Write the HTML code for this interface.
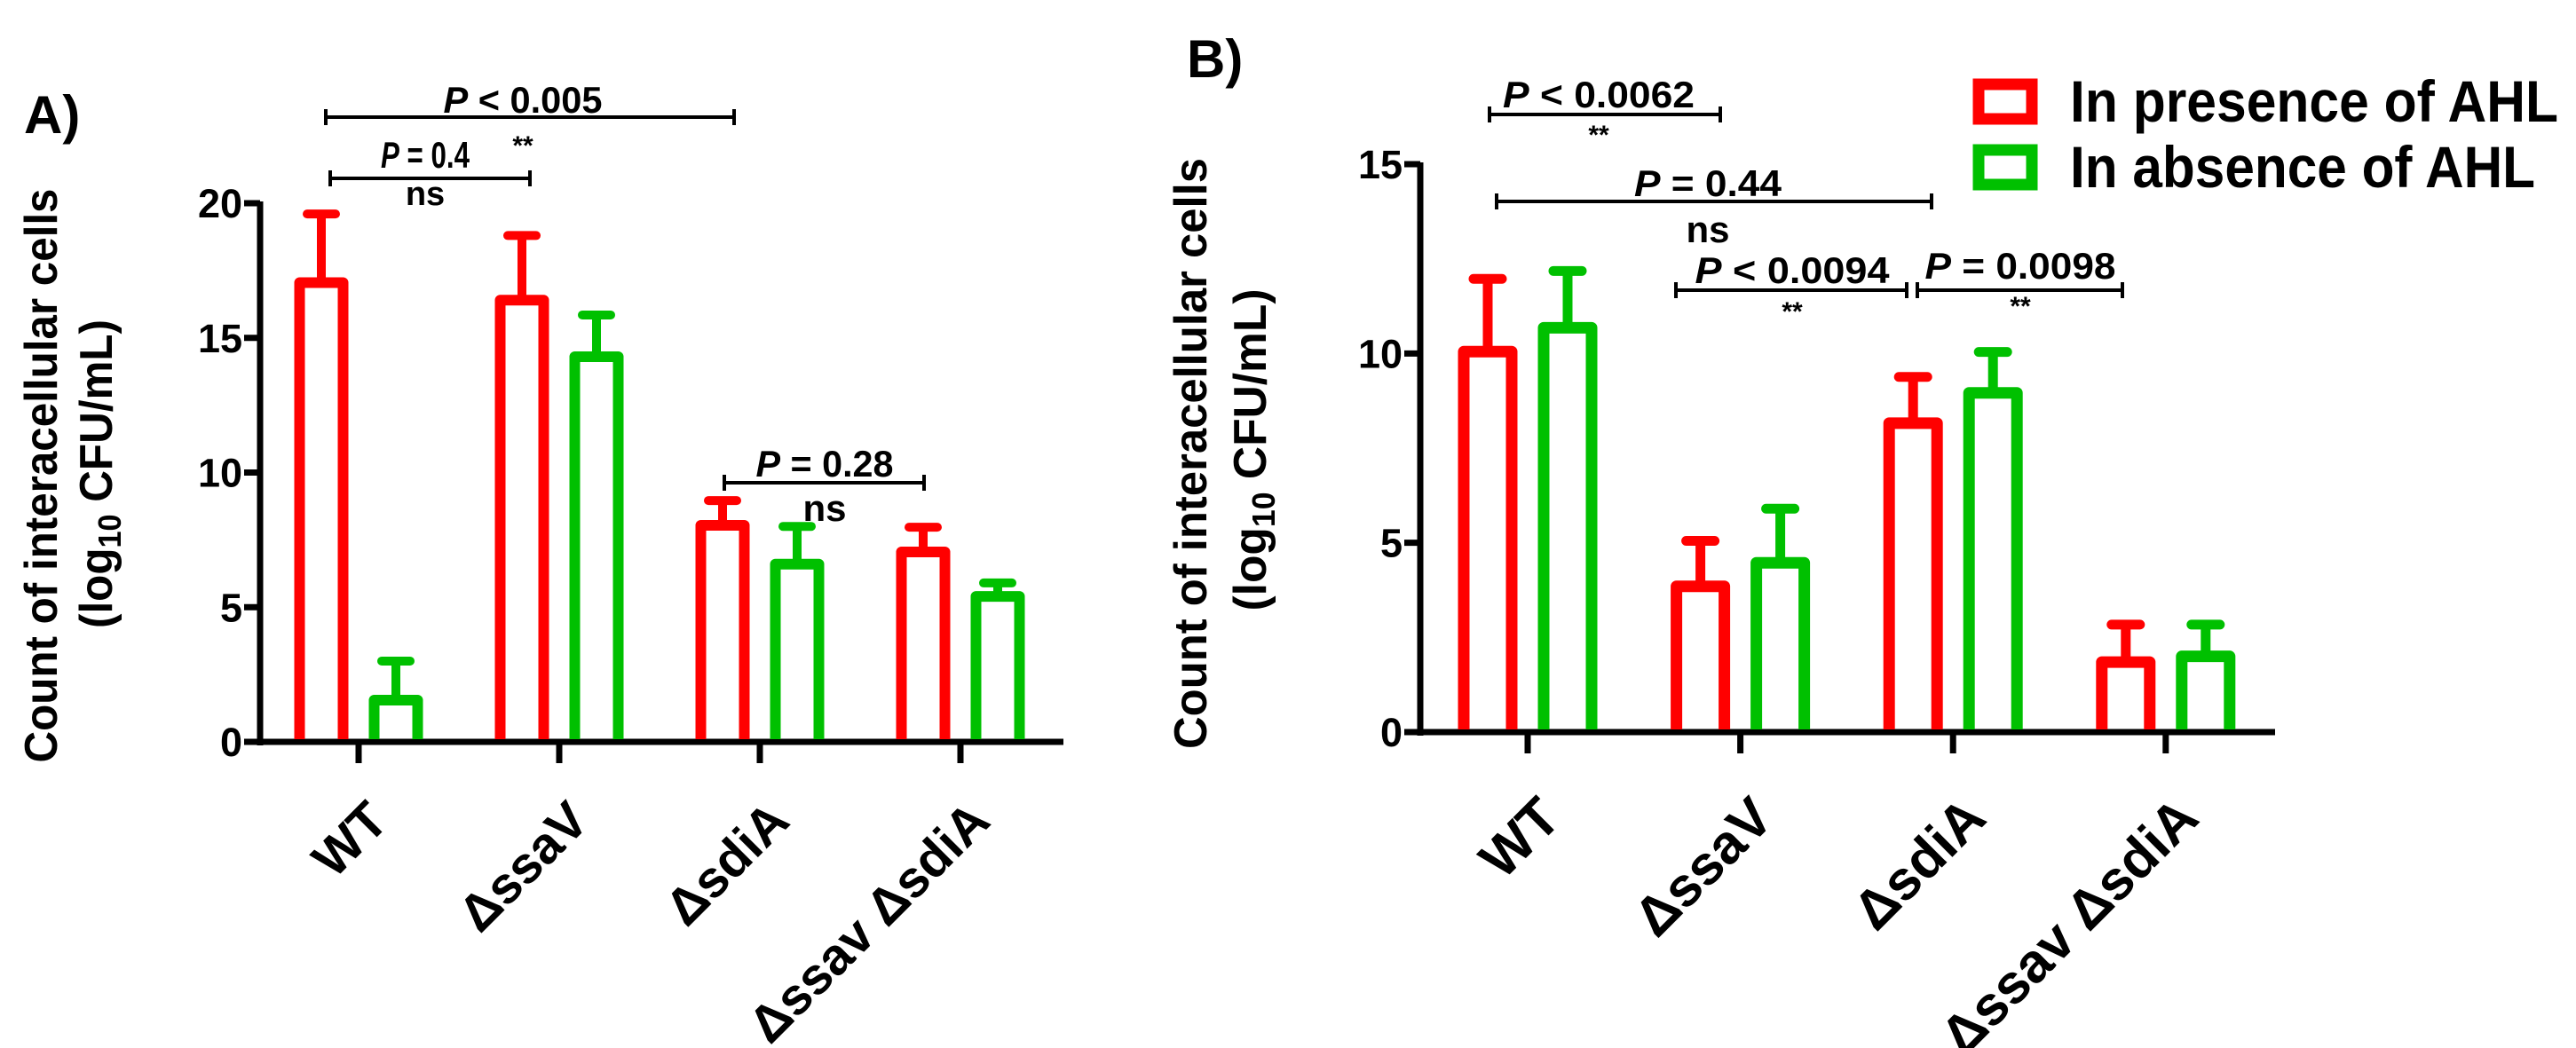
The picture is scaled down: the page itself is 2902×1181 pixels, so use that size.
<!DOCTYPE html>
<html><head><meta charset="utf-8"><style>
html,body{margin:0;padding:0;background:#fff;}
svg{display:block;font-family:"Liberation Sans",Arial,sans-serif;font-weight:bold;}
</style></head><body>
<svg id="chart" width="2902" height="1181" viewBox="0 0 2902 1181" xmlns="http://www.w3.org/2000/svg">
<g id="panelA"></g>
<g id="panelB"></g>
</svg>
<script>
const categories = ["WT", "\u0394ssaV", "\u0394sdiA", "\u0394ssav \u0394sdiA"];
const aPresence = [17.05, 16.4, 8.04, 7.05];
const aPresenceErr = [19.6, 18.8, 8.96, 7.97];
const aAbsence = [1.55, 14.3, 6.6, 5.4];
const aAbsenceErr = [3.0, 15.85, 8.0, 5.9];
const aTicks = [0, 5, 10, 15, 20];
const bPresence = [10.05, 3.85, 8.16, 1.85];
const bPresenceErr = [11.97, 5.05, 9.38, 2.84];
const bAbsence = [10.68, 4.47, 8.96, 2.0];
const bAbsenceErr = [12.18, 5.9, 10.04, 2.84];
const bTicks = [0, 5, 10, 15];
const legendLabels = ["In presence of AHL", "In absence of AHL"];

const NS = "http://www.w3.org/2000/svg";
function mk(tag, attrs, parent, text) {
  const e = document.createElementNS(NS, tag);
  for (const k in attrs) e.setAttribute(k, attrs[k]);
  if (text !== undefined) e.textContent = text;
  parent.appendChild(e);
  return e;
}
const RED = "#ff0000", GREEN = "#00c000";

function panel(g, cfg) {
  const yS = v => cfg.y0 - (v - 0) * (cfg.y0 - cfg.yTop) / cfg.yMax;
  const xS = i => cfg.firstTick + i * cfg.tickStep;
  let e = mk("line", {x1: cfg.ax, y1: yS(cfg.yMax) - 2, x2: cfg.ax, y2: cfg.y0 + 4, stroke: "#000", "stroke-width": 7}, g);
  
  
  e = mk("line", {x1: cfg.ax - 18, y1: cfg.y0, x2: cfg.axEnd, y2: cfg.y0, stroke: "#000", "stroke-width": 7}, g);
  
  
  cfg.ticks.forEach(t => {
    const y = yS(t);
    const l = mk("line", {x1: cfg.ax - 18, y1: y, x2: cfg.ax, y2: y, stroke: "#000", "stroke-width": 7}, g);
    
    
    const tx = mk("text", {x: cfg.ax - 20, y: y + 16, "text-anchor": "end", "font-size": 45}, g, String(t));
    
    
  });
  categories.forEach((c, i) => {
    const x = xS(i);
    const l = mk("line", {x1: x, y1: cfg.y0, x2: x, y2: cfg.y0 + 24, stroke: "#000", "stroke-width": 7}, g);
    
    
    const lx = x + cfg.labDx, ly = cfg.y0 + cfg.labDy;
    const t = mk("text", {x: lx, y: ly, "text-anchor": "end", "font-size": cfg.labFont, transform: `rotate(-45 ${lx} ${ly})`}, g, c);
    
    
  });
  const series = [[cfg.pres, cfg.presErr, RED, -cfg.off], [cfg.abs, cfg.absErr, GREEN, cfg.off]];
  series.forEach(([vals, errs, col, off], si) => {
    vals.forEach((v, i) => {
      const cx = xS(i) + off, hw = cfg.bw / 2 - cfg.sw / 2;
      const yt = yS(v), ye = yS(errs[i]);
      const p = mk("path", {d: `M${cx - hw},${cfg.y0 - 3} V${yt} H${cx + hw} V${cfg.y0 - 3}`, fill: "none", stroke: col, "stroke-width": cfg.sw, "stroke-linejoin": "round"}, g);
      
      
      const el = mk("path", {d: `M${cx},${yt} V${ye} M${cx - 16},${ye} H${cx + 16}`, fill: "none", stroke: col, "stroke-width": cfg.sw - 2, "stroke-linecap": "round"}, g);
      
      
    });
  });
  const t1 = mk("text", {x: cfg.tx1, y: cfg.tyc, "text-anchor": "middle", "font-size": 52, textLength: cfg.tl1, lengthAdjust: "spacingAndGlyphs", transform: `rotate(-90 ${cfg.tx1} ${cfg.tyc})`}, g, "Count of interacellular cells");
  
  
  const t2 = mk("text", {x: cfg.tx2, y: cfg.tyc2, "text-anchor": "middle", "font-size": 52, transform: `rotate(-90 ${cfg.tx2} ${cfg.tyc2})`}, g);
  
  
  t2.innerHTML = '(log<tspan font-size="36" dy="10">10</tspan><tspan dy="-10"> CFU/mL)</tspan>';
  t2.setAttribute("textLength", cfg.tl2);
  t2.setAttribute("lengthAdjust", "spacingAndGlyphs");
}

function bracket(g, x1, x2, y, label, lw, lx, ly, sig, sy, sigSize) {
  const b = mk("path", {d: `M${x1},${y - 9} V${y + 9} M${x1},${y} H${x2} M${x2},${y - 9} V${y + 9}`, stroke: "#000", "stroke-width": 4, fill: "none"}, g);
  
  
  const t = mk("text", {x: lx, y: ly, "text-anchor": "middle", "font-size": 42, textLength: lw, lengthAdjust: "spacingAndGlyphs"}, g);
  
  
  t.innerHTML = '<tspan font-style="italic">P</tspan>' + label;
  const s = mk("text", {x: lx, y: sy, "text-anchor": "middle", "font-size": sigSize}, g, sig);
  
  
}

const gA = document.getElementById("panelA");
panel(gA, {y0: 836, yTop: 229, yMax: 20, ax: 293, axEnd: 1198, firstTick: 404, tickStep: 226,
  ticks: aTicks, pres: aPresence, presErr: aPresenceErr, abs: aAbsence, absErr: aAbsenceErr,
  off: 42, bw: 61, sw: 12, labDx: 36, labDy: 92, labFont: 58,
  tx1: 64, tyc: 536, tl1: 647, tx2: 126, tyc2: 534, tl2: 348});
const gB = document.getElementById("panelB");
panel(gB, {y0: 825, yTop: 185, yMax: 15, ax: 1600, axEnd: 2563, firstTick: 1721, tickStep: 239.6,
  ticks: bTicks, pres: bPresence, presErr: bPresenceErr, abs: bAbsence, absErr: bAbsenceErr,
  off: 45, bw: 67, sw: 13, labDx: 40, labDy: 100, labFont: 62,
  tx1: 1359, tyc: 511, tl1: 666, tx2: 1426, tyc2: 507, tl2: 363});

let pl = mk("text", {x: 27, y: 150, "font-size": 60}, gA, "A)");


pl = mk("text", {x: 1337, y: 87, "font-size": 60}, gB, "B)");



bracket(gA, 367, 827, 132, " < 0.005", 179, 589, 127, "**", 174, 30);
bracket(gA, 372, 597, 201, " = 0.4", 100, 479, 189, "ns", 231, 38);
bracket(gA, 816, 1041, 544, " = 0.28", 155, 929, 537, "ns", 587, 42);
bracket(gB, 1678, 1938, 129, " < 0.0062", 216, 1801, 121, "**", 162, 30);
bracket(gB, 1686, 2176, 227, " = 0.44", 166, 1924, 221, "ns", 273, 42);
bracket(gB, 1888, 2148, 327, " < 0.0094", 219, 2019, 319, "**", 361, 30);
bracket(gB, 2160, 2391, 327, " = 0.0098", 215, 2276, 314, "**", 355, 30);

const legCols = [RED, GREEN];
const legY = [89, 163];
const legW = [550, 524];
legendLabels.forEach((lab, i) => {
  const r = mk("rect", {x: 2229, y: legY[i] + 6, width: 60, height: 39, fill: "#fff", stroke: legCols[i], "stroke-width": 13}, gB);
  
  
  const t = mk("text", {x: 2332, y: legY[i] + 48, "font-size": 66, textLength: legW[i], lengthAdjust: "spacingAndGlyphs"}, gB, lab);
  
  
});
</script>
</body></html>
